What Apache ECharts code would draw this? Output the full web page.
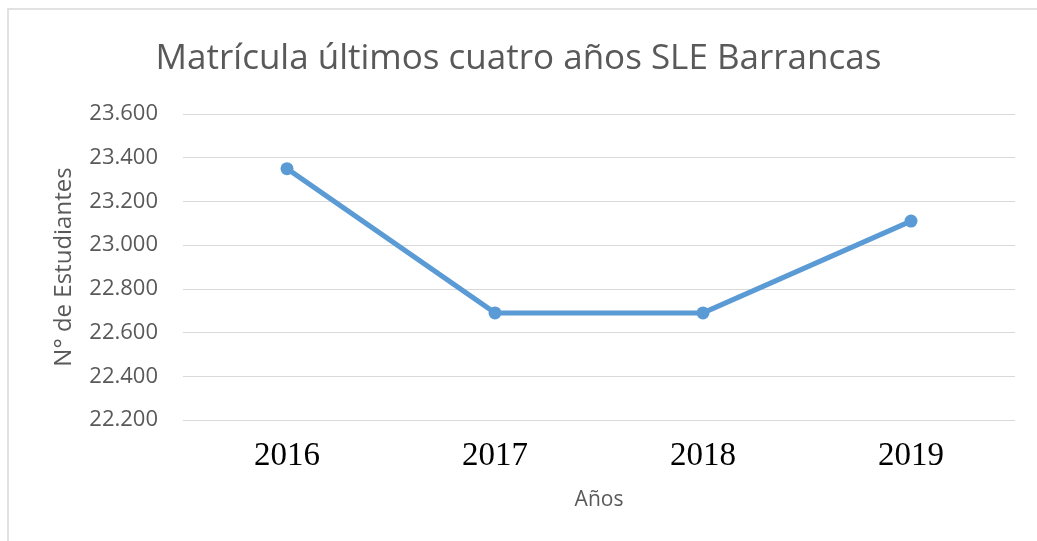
<!DOCTYPE html>
<html>
<head>
<meta charset="utf-8">
<script src="https://cdn.jsdelivr.net/npm/echarts@6/dist/echarts.min.js"></script>
<style>
  html, body { margin: 0; padding: 0; background: #fff; }
  #chart { width: 1037px; height: 541px; }
</style>
</head>
<body>
<div id="chart"></div>
<script>
// datos
var years = ["2016", "2017", "2018", "2019"];
var students = [23350, 22690, 22690, 23110];
var yMin = 22200, yMax = 23600, yStep = 200;

function fmt(v) {
  // separador de miles con punto
  return String(v).replace(/\B(?=(\d{3})+(?!\d))/g, ".");
}

var chart = echarts.init(document.getElementById("chart"));
chart.setOption({
  backgroundColor: "#fff",
  animation: false,
  title: {
    text: "Matrícula últimos cuatro años SLE Barrancas",
    left: "center",
    top: 37,
    textStyle: { fontFamily: "Open Sans", fontSize: 35, fontWeight: "normal", color: "#595959" }
  },
  grid: { left: 183, right: 22, top: 114, bottom: 121 },
  xAxis: {
    type: "category",
    data: years,
    boundaryGap: true,
    name: "Años",
    nameLocation: "middle",
    nameGap: 70,
    nameTextStyle: { fontFamily: "Open Sans", fontSize: 21, color: "#595959" },
    axisLine: { show: false },
    axisTick: { show: false },
    axisLabel: {
      margin: 20,
      fontFamily: "Liberation Serif",
      fontSize: 33,
      color: "#000"
    }
  },
  yAxis: {
    type: "value",
    min: yMin,
    max: yMax,
    interval: yStep,
    name: "N° de Estudiantes",
    nameLocation: "middle",
    nameGap: 107,
    nameTextStyle: { fontFamily: "Open Sans", fontSize: 24, color: "#595959" },
    axisLine: { show: false },
    axisTick: { show: false },
    splitLine: { lineStyle: { color: "#d9d9d9", width: 1 } },
    axisLabel: {
      margin: 25,
      fontFamily: "Open Sans",
      fontSize: 22,
      color: "#595959",
      formatter: fmt
    }
  },
  graphic: [
    {
      type: "polyline",
      shape: { points: [[8, 545], [8, 9], [1040, 9]] },
      style: { stroke: "#d9d9d9", fill: null, lineWidth: 1.5 }
    }
  ],
  series: [{
    type: "line",
    data: students,
    symbol: "circle",
    symbolSize: 13,
    lineStyle: { color: "#5B9BD5", width: 5 },
    itemStyle: { color: "#5B9BD5" }
  }]
});
</script>
</body>
</html>
